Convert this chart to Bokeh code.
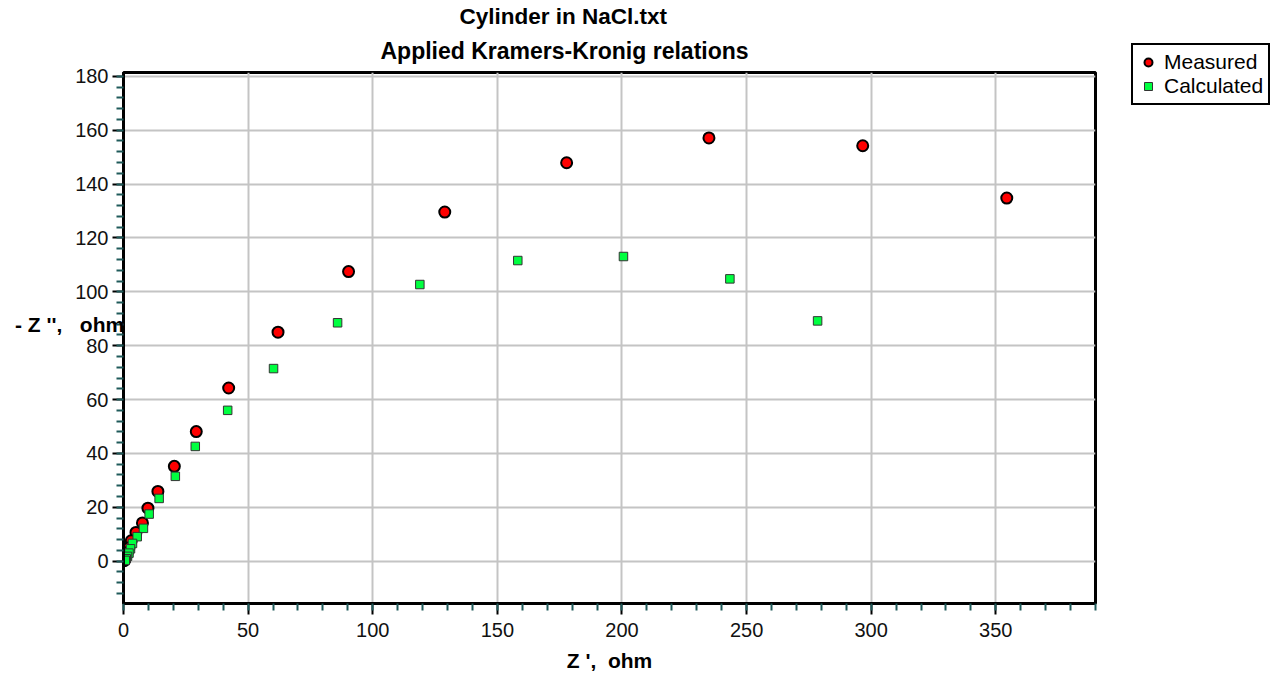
from bokeh.plotting import figure
from bokeh.models import Range1d, SingleIntervalTicker, Legend, LegendItem, Title
from bokeh.embed import file_html
from bokeh.resources import INLINE

# ---- data ----
meas_zr = [354.4, 296.6, 234.9, 177.8, 128.9, 90.3, 62.0, 42.2, 29.2, 20.4,
           13.8, 9.8, 7.6, 5.0, 3.1, 2.2, 1.5, 1.0, 0.6, 0.3]
meas_zi = [134.8, 154.2, 157.1, 147.9, 129.6, 107.5, 85.0, 64.3, 48.1, 35.2,
           25.9, 19.7, 14.2, 10.7, 7.6, 5.0, 3.2, 1.8, 0.8, 0.2]
calc_zr = [278.5, 243.3, 200.6, 158.2, 118.9, 85.9, 60.2, 41.8, 28.8, 20.8,
           14.3, 10.3, 8.0, 5.5, 3.6, 2.8, 2.2, 1.6, 1.1, 0.7]
calc_zi = [89.2, 104.8, 113.1, 111.6, 102.7, 88.5, 71.5, 56.0, 42.6, 31.5,
           23.3, 17.5, 12.2, 9.1, 6.6, 4.6, 3.0, 1.8, 0.9, 0.3]

title_lines = ["Cylinder in NaCl.txt", "Applied Kramers-Kronig relations"]
x_title = "Z\u00a0',\u00a0\u00a0ohm"
y_title = "-\u00a0Z\u00a0'',\u00a0\u00a0\u00a0ohm"
series_names = ["Measured", "Calculated"]

FONT = "Liberation Sans"

p = figure(frame_width=972, frame_height=531, output_backend="svg",
           toolbar_location=None,
           x_range=Range1d(0, 390), y_range=Range1d(-15.7, 181.4),
           min_border_left=123, min_border_right=185,
           min_border_top=72, min_border_bottom=73)
p.background_fill_color = "white"
p.border_fill_color = "white"
p.outline_line_color = "black"
p.outline_line_width = 3

p.xaxis.ticker = SingleIntervalTicker(interval=50, num_minor_ticks=5)
p.yaxis.ticker = SingleIntervalTicker(interval=20, num_minor_ticks=5)
for ax in (p.xaxis, p.yaxis):
    ax.axis_line_color = "black"
    ax.axis_line_width = 3
    ax.major_tick_line_color = "black"
    ax.major_tick_line_width = 2
    ax.major_tick_out = 11
    ax.major_tick_in = 0
    ax.minor_tick_line_color = "#1f5a5a"
    ax.minor_tick_line_width = 2
    ax.minor_tick_out = 7
    ax.minor_tick_in = 0
    ax.major_label_text_font = FONT
    ax.major_label_text_font_size = "20px"
    ax.major_label_text_color = "#111111"
    ax.axis_label_text_font = FONT
    ax.axis_label_text_font_style = "bold"
    ax.axis_label_text_font_size = "21px"
    ax.axis_label_text_color = "black"
p.xaxis.major_label_standoff = 8
p.yaxis.major_label_standoff = 4

p.xaxis.axis_label = x_title
p.xaxis.axis_label_standoff = 9
p.yaxis.axis_label = y_title + "\n\u00a0"
try:
    p.yaxis.axis_label_orientation = "horizontal"
except Exception:
    pass
p.yaxis.axis_label_standoff = -52
p.yaxis.axis_label_text_baseline = "bottom"

p.xgrid.grid_line_color = "#c4c4c4"
p.ygrid.grid_line_color = "#c4c4c4"
p.xgrid.grid_line_width = 2
p.ygrid.grid_line_width = 2

r_meas = p.scatter(meas_zr, meas_zi, marker="circle", size=11,
                   fill_color="#ff0000", line_color="black", line_width=2)
r_calc = p.scatter(calc_zr, calc_zi, marker="square", size=8.5,
                   fill_color="#00ff40", line_color="#333333", line_width=1)

# two-line title
p.add_layout(Title(text=title_lines[1], align="left", offset=257, standoff=17,
                   text_font=FONT, text_font_style="bold", text_font_size="23px",
                   text_color="black"),
             "above")
p.add_layout(Title(text=title_lines[0], align="left", offset=336, standoff=-3,
                   text_font=FONT, text_font_style="bold", text_font_size="22.5px",
                   text_color="black"),
             "above")

legend = Legend(items=[LegendItem(label=series_names[0], renderers=[r_meas]),
                       LegendItem(label=series_names[1], renderers=[r_calc])],
                location=(36, 498), orientation="vertical",
                label_text_font=FONT, label_text_font_size="21px",
                label_text_color="black",
                glyph_width=20, glyph_height=20, label_standoff=6,
                padding=5, spacing=0, margin=0,
                border_line_color="black", border_line_width=2,
                border_line_alpha=1.0,
                background_fill_color="white", background_fill_alpha=1.0)
p.add_layout(legend, "right")

open("out.html", "w").write(file_html(p, INLINE))
